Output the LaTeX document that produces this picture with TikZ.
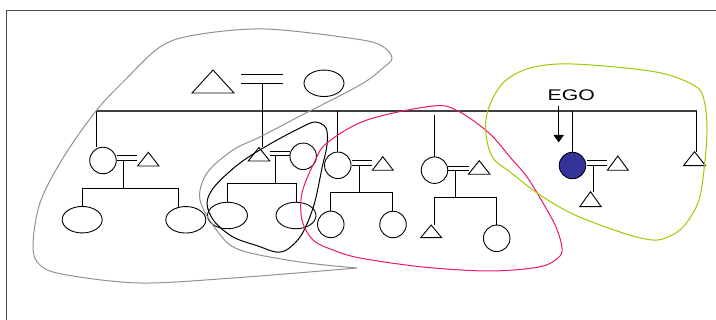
\documentclass[tikz,border=0pt]{standalone}
\usepackage{fontspec}
\setmainfont{Liberation Sans}
\usetikzlibrary{shapes.geometric,arrows.meta}
\definecolor{egoblue}{RGB}{51,51,153}
\definecolor{pinkc}{RGB}{238,20,110}
\definecolor{greenc}{RGB}{153,204,0}
\definecolor{grayc}{RGB}{145,145,145}
\newcommand\kinTri[5]{% name, apex x, apex y, half width, height
  \coordinate (#1) at (#2,#3);
  \draw[kin] (#1) -- ++(-#4,#5) -- ++(2*#4,0) -- cycle;}
\newcommand\marr[4]{% x1 x2 y1 y2
  \draw[kin] (#1,#3) -- (#2,#3) (#1,#4) -- (#2,#4);}
\begin{document}
\begin{tikzpicture}[x=1pt,y=-1pt,
  kin/.style={line width=0.9pt,black},
  fem/.style={circle,draw,kin,minimum size=26.5pt,inner sep=0pt},
  oval/.style={ellipse,draw,kin,minimum width=40pt,minimum height=26.5pt,inner sep=0pt},
  blob/.style={line width=1pt}]
\useasboundingbox (0,0) rectangle (716,320);
% frame
\draw[line width=1pt,black!70] (716,10.5) -- (6.5,10.5) -- (6.5,320);

% top generation
\kinTri{ttop}{213}{70}{21}{23}
\marr{241}{283}{74}{83}
\node[oval] (ctop) at (324,83.3) {};
\coordinate (sl) at (96,111);
\coordinate (sr) at (696.5,111);
\draw[line width=1.1pt,black!75] (sl) -- (sr);
\draw[kin] (262,83) -- (262,147.5);

% family 1
\node[fem] (f1w) at (103,160.5) {};
\draw[kin] (sl) -- (96,147.5);
\marr{116.5}{137}{155.7}{160.7}
\kinTri{f1h}{148.3}{152.3}{10.7}{13.7}
\draw[kin] (123.3,160.7) -- (123.3,188);
\draw[kin] (82.3,206) -- (82.3,188) -- (178.7,188) -- (178.7,207);
\node[oval] (f1c1) at (82.2,219.7) {};
\node[oval] (f1c2) at (185.8,219.8) {};

% family 2
\kinTri{f2h}{259}{147.5}{10.8}{13.5}
\marr{269.5}{289.5}{151.8}{155.5}
\node[fem] (f2w) at (303.2,156.3) {};
\draw[kin] (275.7,155.5) -- (275.7,183.3);
\draw[kin] (227.3,202) -- (227.3,183.3) -- (296.7,183.3) -- (296.7,202);
\node[oval] (f2c1) at (227.5,215.5) {};
\node[oval] (f2c2) at (296,215.5) {};

% family 3
\draw[kin] (337.8,111) -- (337.8,152);
\node[fem] (f3w) at (337.8,165.3) {};
\marr{351.5}{372}{160.7}{165.7}
\kinTri{f3h}{382.8}{156.7}{10.5}{13.6}
\draw[kin] (359,165.7) -- (359,192.3);
\draw[kin] (330.7,211) -- (330.7,192.3) -- (392.7,192.3) -- (392.7,211);
\node[fem] (f3c1) at (330.8,224.4) {};
\node[fem] (f3c2) at (393,224.5) {};

% family 4
\draw[kin] (434.5,115) -- (434.5,157);
\node[fem] (f4w) at (434.5,170.2) {};
\marr{448.3}{468.5}{166.7}{170.7}
\kinTri{f4h}{479.2}{160.7}{10.8}{13.6}
\draw[kin] (455,170.7) -- (455,197.3);
\draw[kin] (434.3,225) -- (434.3,197.3) -- (496.7,197.3) -- (496.7,225);
\kinTri{f4c1}{431.2}{225}{10.5}{12.7}
\node[fem] (f4c2) at (496.7,238.3) {};

% ego family
\draw[kin] (572.7,111) -- (572.7,152);
\node[fem,fill=egoblue] (ego) at (572.5,165.5) {};
\marr{586.5}{607.3}{160.7}{165.7}
\kinTri{egoh}{617.8}{156}{10.5}{14.3}
\draw[kin] (593.3,165.7) -- (593.3,191.7);
\kinTri{egoc}{590.5}{191.7}{10.7}{15}
\draw[kin] (sr) -- (696.5,152);
\kinTri{tr}{694.5}{151.7}{11}{14}

% EGO label and arrow
\node[font=\fontsize{15.4}{18}\selectfont,inner sep=0pt] (egolab) at (571.3,95.5) {\scalebox{1.38}[1]{EGO}};
\draw[line width=1.3pt,-{Triangle[width=10pt,length=7.5pt]}] (558.7,106) -- (558.7,142.5);

% blobs
\draw[blob,grayc] plot[smooth,tension=0.55] coordinates {(357,268) (300,262) (240,250) (218,232) (200,200) (207,173) (233,150) (260,137) (300,116) (360,85) (383,68) (392,58) (382,46) (356,39) (265,29) (195,35) (160,47) (125,80) (96,111) (63,158) (40,203) (33,247) (41,266) (67,275) (140,283) (233,278) (357,268)};
\draw[blob,black] plot[smooth cycle,tension=0.55] coordinates {(315,122) (326,128) (327,145) (322,168) (314,205) (302,234) (288,249) (276,252) (258,246) (233,237) (214,221) (207,203) (215,186) (240,163) (270,144) (300,128)};
\draw[blob,pinkc] plot[smooth cycle,tension=0.55] coordinates {(433,106) (458,111) (489,133) (510,157) (527,177) (543,203) (556,227) (562,248) (558,258) (539,267) (489,271) (423,267) (360,258) (333,250) (313,240) (302,220) (302,193) (314,163) (327,143) (367,120)};
\draw[blob,greenc] plot[smooth cycle,tension=0.55] coordinates {(573,64) (530,68) (503,83) (488,110) (486,135) (493,158) (510,172) (540,195) (575,215) (623,233) (652,240) (668,237) (684,226) (699,200) (705,160) (707,127) (704,100) (695,86) (656,72)};
\end{tikzpicture}
\end{document}
